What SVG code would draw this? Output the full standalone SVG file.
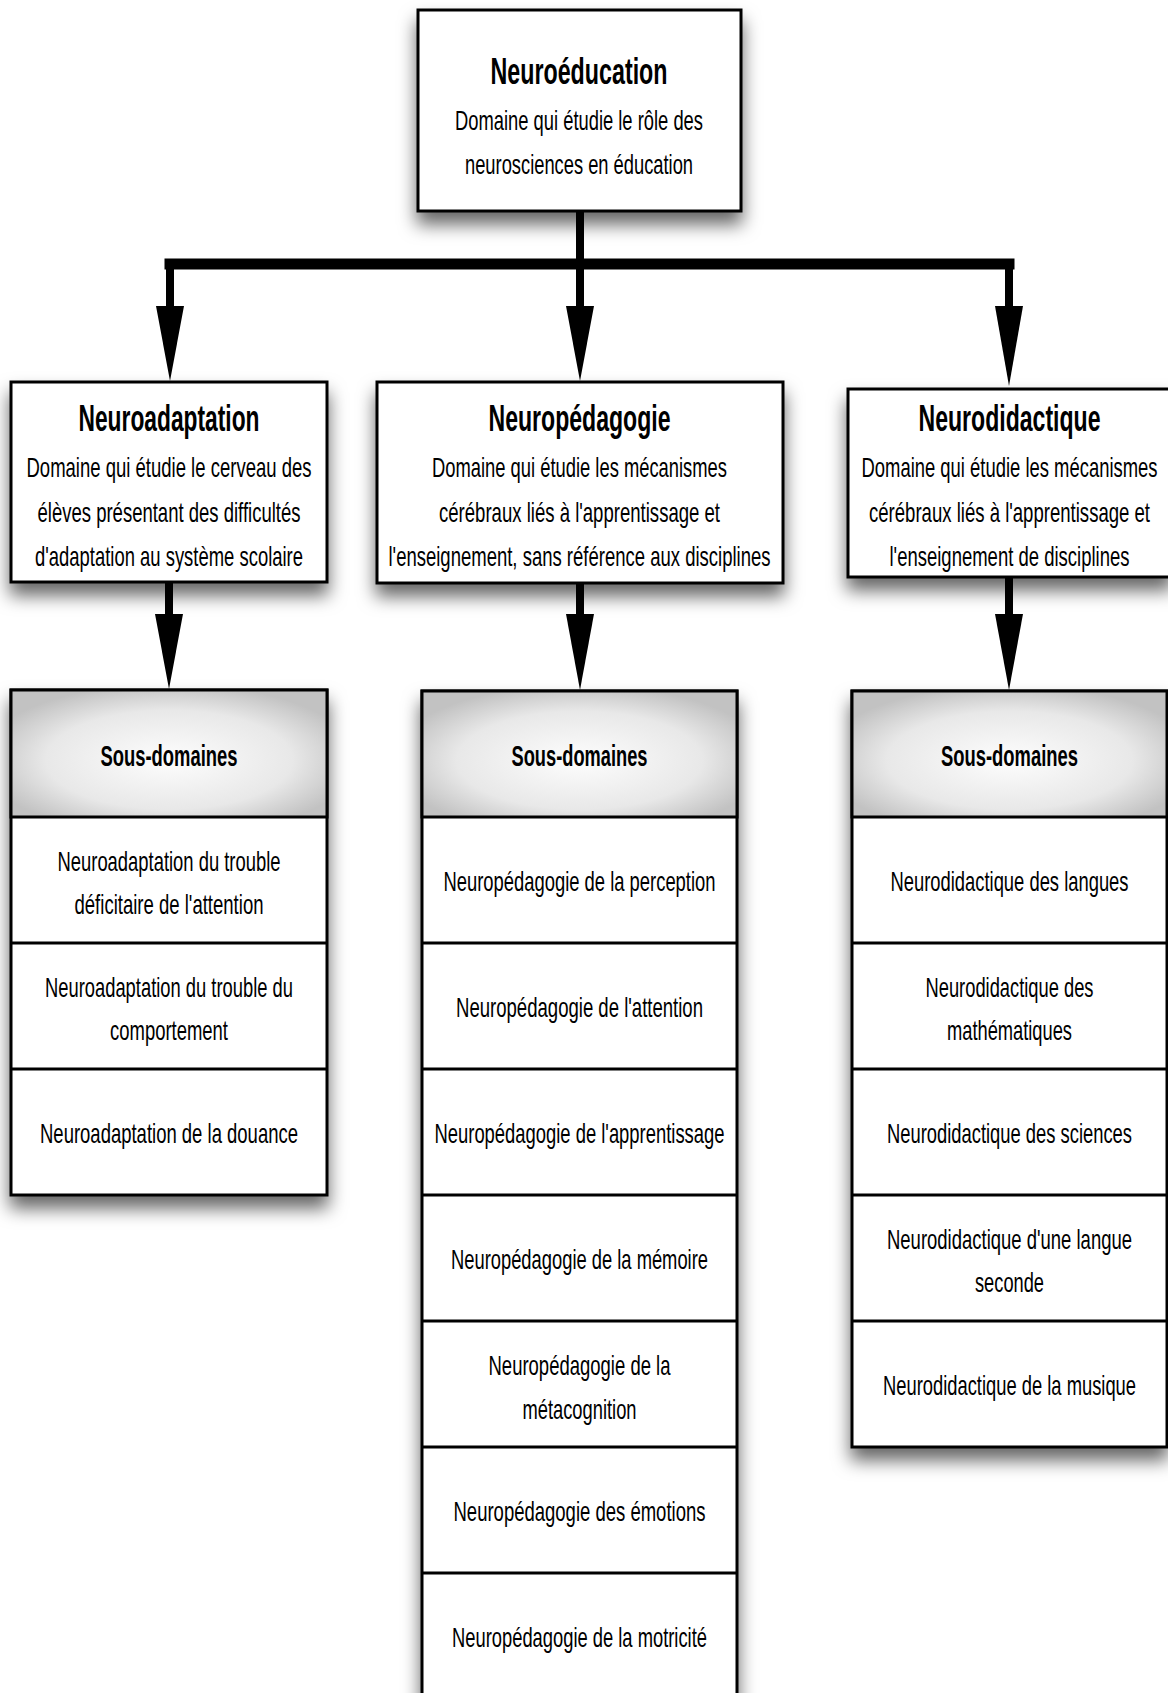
<svg xmlns="http://www.w3.org/2000/svg" width="1168" height="1693" viewBox="0 0 1168 1693">
<defs>
<filter id="shadow" x="-20%" y="-20%" width="140%" height="150%">
<feDropShadow dx="0" dy="12" stdDeviation="9" flood-color="#000" flood-opacity="0.6"/>
</filter>
<radialGradient id="hdr" cx="50%" cy="55%" r="60%">
<stop offset="0" stop-color="#fdfdfd"/>
<stop offset="0.65" stop-color="#e8e8e8"/>
<stop offset="1" stop-color="#c2c2c2"/>
</radialGradient>
<style>
.box{fill:#fff;stroke:#000;stroke-width:3}
.hd{fill:url(#hdr);stroke:#000;stroke-width:3}
.sep{stroke:#000;stroke-width:3}
.t{font-family:"Liberation Sans",Arial,sans-serif;font-size:28px;text-anchor:middle;fill:#000}
.ti{font-weight:bold;font-size:36px}
.sd{font-weight:bold;font-size:30px}
.cv{stroke:#000;stroke-width:8;fill:none}
.ch{stroke:#000;stroke-width:11;fill:none;stroke-linecap:square}
.ah{fill:#000}
</style>
</defs>
<rect width="1168" height="1693" fill="#fff"/>

<g id="connectors">
<path class="ch" d="M170,264 H1009"/>
<path class="cv" d="M580,212 V310 M170,264 V310 M1009,264 V310"/>
<polygon class="ah" points="156,306 184,306 170,381"/>
<polygon class="ah" points="566,306 594,306 580,381"/>
<polygon class="ah" points="995,306 1023,306 1009,386"/>
<path class="cv" d="M169,582 V618 M580,583 V618 M1009,577 V618"/>
<polygon class="ah" points="155,614 183,614 169,689"/>
<polygon class="ah" points="566,614 594,614 580,690"/>
<polygon class="ah" points="995,614 1023,614 1009,690"/>
</g>

<g id="neuroeducation">
<rect class="box" filter="url(#shadow)" x="418" y="10" width="323" height="201"/>
<text class="t ti" x="579" y="84" textLength="177" lengthAdjust="spacingAndGlyphs">Neuroéducation</text>
<text class="t" x="579" y="130" textLength="248" lengthAdjust="spacingAndGlyphs">Domaine qui étudie le rôle des</text>
<text class="t" x="579" y="174" textLength="228" lengthAdjust="spacingAndGlyphs">neurosciences en éducation</text>
</g>

<g id="neuroadaptation">
<rect class="box" filter="url(#shadow)" x="11" y="382" width="316" height="200"/>
<text class="t ti" x="169" y="431" textLength="181" lengthAdjust="spacingAndGlyphs">Neuroadaptation</text>
<text class="t" x="169" y="477" textLength="285" lengthAdjust="spacingAndGlyphs">Domaine qui étudie le cerveau des</text>
<text class="t" x="169" y="522" textLength="263" lengthAdjust="spacingAndGlyphs">élèves présentant des difficultés</text>
<text class="t" x="169" y="566" textLength="268" lengthAdjust="spacingAndGlyphs">d'adaptation au système scolaire</text>
</g>

<g id="neuropedagogie">
<rect class="box" filter="url(#shadow)" x="377" y="382" width="406" height="201"/>
<text class="t ti" x="579.5" y="431" textLength="182" lengthAdjust="spacingAndGlyphs">Neuropédagogie</text>
<text class="t" x="579.5" y="477" textLength="295" lengthAdjust="spacingAndGlyphs">Domaine qui étudie les mécanismes</text>
<text class="t" x="579.5" y="522" textLength="281" lengthAdjust="spacingAndGlyphs">cérébraux liés à l'apprentissage et</text>
<text class="t" x="579.5" y="566" textLength="382" lengthAdjust="spacingAndGlyphs">l'enseignement, sans référence aux disciplines</text>
</g>

<g id="neurodidactique">
<rect class="box" filter="url(#shadow)" x="848" y="389" width="323" height="188"/>
<text class="t ti" x="1009.5" y="431" textLength="182" lengthAdjust="spacingAndGlyphs">Neurodidactique</text>
<text class="t" x="1009.5" y="477" textLength="296" lengthAdjust="spacingAndGlyphs">Domaine qui étudie les mécanismes</text>
<text class="t" x="1009.5" y="522" textLength="281" lengthAdjust="spacingAndGlyphs">cérébraux liés à l'apprentissage et</text>
<text class="t" x="1009.5" y="566" textLength="240" lengthAdjust="spacingAndGlyphs">l'enseignement de disciplines</text>
</g>

<g id="sous-domaines-neuroadaptation">
<rect class="box" filter="url(#shadow)" x="11" y="690" width="316" height="505"/>
<rect class="hd" x="11" y="690" width="316" height="127"/>
<line class="sep" x1="11" y1="943" x2="327" y2="943"/>
<line class="sep" x1="11" y1="1069" x2="327" y2="1069"/>
<text class="t sd" x="169" y="766" textLength="137" lengthAdjust="spacingAndGlyphs">Sous-domaines</text>
<text class="t" x="169" y="871" textLength="223" lengthAdjust="spacingAndGlyphs">Neuroadaptation du trouble</text>
<text class="t" x="169" y="914" textLength="189" lengthAdjust="spacingAndGlyphs">déficitaire de l'attention</text>
<text class="t" x="169" y="997" textLength="248" lengthAdjust="spacingAndGlyphs">Neuroadaptation du trouble du</text>
<text class="t" x="169" y="1040" textLength="118" lengthAdjust="spacingAndGlyphs">comportement</text>
<text class="t" x="169" y="1143" textLength="258" lengthAdjust="spacingAndGlyphs">Neuroadaptation de la douance</text>
</g>

<g id="sous-domaines-neuropedagogie">
<rect class="box" filter="url(#shadow)" x="422" y="691" width="315" height="1010"/>
<rect class="hd" x="422" y="691" width="315" height="126"/>
<line class="sep" x1="422" y1="943" x2="737" y2="943"/>
<line class="sep" x1="422" y1="1069" x2="737" y2="1069"/>
<line class="sep" x1="422" y1="1195" x2="737" y2="1195"/>
<line class="sep" x1="422" y1="1321" x2="737" y2="1321"/>
<line class="sep" x1="422" y1="1447" x2="737" y2="1447"/>
<line class="sep" x1="422" y1="1573" x2="737" y2="1573"/>
<text class="t sd" x="579.5" y="766" textLength="136" lengthAdjust="spacingAndGlyphs">Sous-domaines</text>
<text class="t" x="579.5" y="891" textLength="272" lengthAdjust="spacingAndGlyphs">Neuropédagogie de la perception</text>
<text class="t" x="579.5" y="1017" textLength="247" lengthAdjust="spacingAndGlyphs">Neuropédagogie de l'attention</text>
<text class="t" x="579.5" y="1143" textLength="290" lengthAdjust="spacingAndGlyphs">Neuropédagogie de l'apprentissage</text>
<text class="t" x="579.5" y="1269" textLength="257" lengthAdjust="spacingAndGlyphs">Neuropédagogie de la mémoire</text>
<text class="t" x="579.5" y="1375" textLength="182" lengthAdjust="spacingAndGlyphs">Neuropédagogie de la</text>
<text class="t" x="579.5" y="1419" textLength="114" lengthAdjust="spacingAndGlyphs">métacognition</text>
<text class="t" x="579.5" y="1521" textLength="252" lengthAdjust="spacingAndGlyphs">Neuropédagogie des émotions</text>
<text class="t" x="579.5" y="1647" textLength="255" lengthAdjust="spacingAndGlyphs">Neuropédagogie de la motricité</text>
</g>

<g id="sous-domaines-neurodidactique">
<rect class="box" filter="url(#shadow)" x="852" y="691" width="315" height="756"/>
<rect class="hd" x="852" y="691" width="315" height="126"/>
<line class="sep" x1="852" y1="943" x2="1167" y2="943"/>
<line class="sep" x1="852" y1="1069" x2="1167" y2="1069"/>
<line class="sep" x1="852" y1="1195" x2="1167" y2="1195"/>
<line class="sep" x1="852" y1="1321" x2="1167" y2="1321"/>
<text class="t sd" x="1009.5" y="766" textLength="137" lengthAdjust="spacingAndGlyphs">Sous-domaines</text>
<text class="t" x="1009.5" y="891" textLength="238" lengthAdjust="spacingAndGlyphs">Neurodidactique des langues</text>
<text class="t" x="1009.5" y="997" textLength="168" lengthAdjust="spacingAndGlyphs">Neurodidactique des</text>
<text class="t" x="1009.5" y="1040" textLength="125" lengthAdjust="spacingAndGlyphs">mathématiques</text>
<text class="t" x="1009.5" y="1143" textLength="245" lengthAdjust="spacingAndGlyphs">Neurodidactique des sciences</text>
<text class="t" x="1009.5" y="1249" textLength="245" lengthAdjust="spacingAndGlyphs">Neurodidactique d'une langue</text>
<text class="t" x="1009.5" y="1292" textLength="69" lengthAdjust="spacingAndGlyphs">seconde</text>
<text class="t" x="1009.5" y="1395" textLength="253" lengthAdjust="spacingAndGlyphs">Neurodidactique de la musique</text>
</g>
</svg>
